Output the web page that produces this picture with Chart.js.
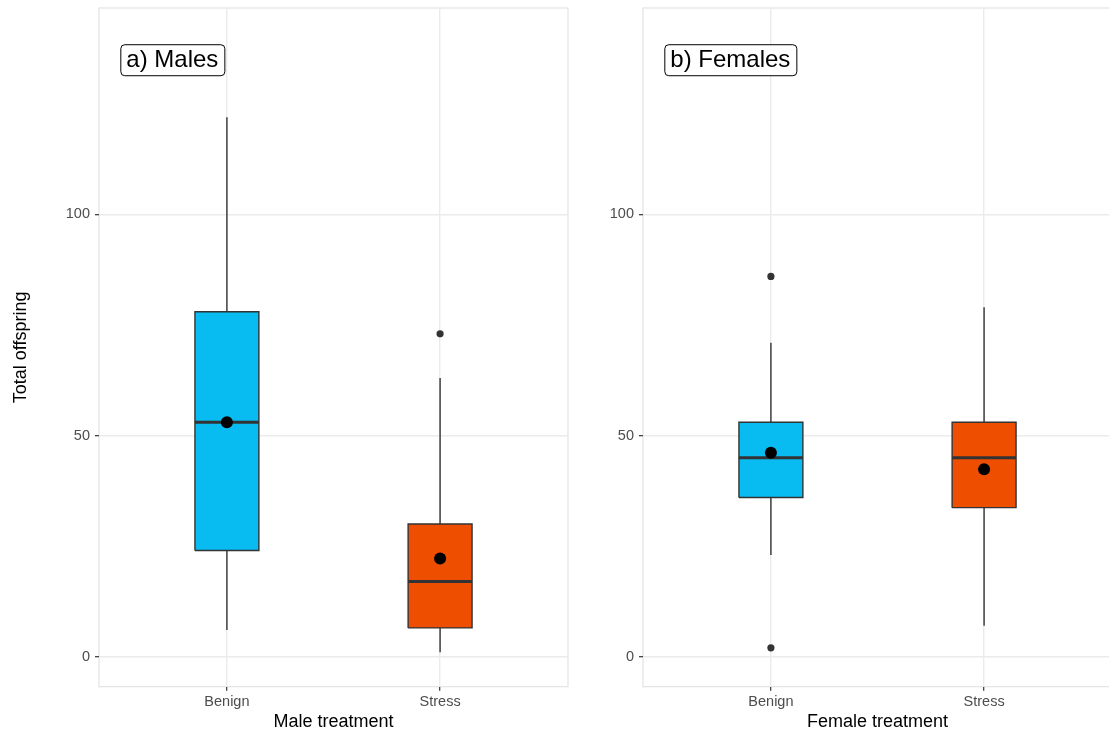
<!DOCTYPE html>
<html>
<head>
<meta charset="utf-8">
<script src="https://cdn.jsdelivr.net/npm/chart.js@4/dist/chart.umd.min.js"></script>
<style>
  html, body { margin: 0; padding: 0; background: #ffffff; overflow: hidden; }
  #wrap { position: relative; width: 1109px; height: 734px; overflow: hidden; }
  .pane { position: absolute; top: 0; height: 734px; }
  #p1 { left: 0; width: 574px; }
  #p2 { left: 572px; width: 546px; }
</style>
</head>
<body>
<div id="wrap">
  <div class="pane" id="p1"><canvas id="c1"></canvas></div>
  <div class="pane" id="p2"><canvas id="c2"></canvas></div>
</div>
<script>
// Treatment groups (x positions 1 and 2 on each panel)
const categories = ['Benign', 'Stress'];
const yTicks = [0, 50, 100];

// Males: box-plot summaries per treatment
const maleMin    = [6, 1];
const maleQ1     = [24, 6.5];
const maleMedian = [53, 17];
const maleQ3     = [78, 30];
const maleMax    = [122, 63];
const maleMean   = [53, 22.2];
const maleOutliers = [[], [73]];

// Females: box-plot summaries per treatment
const femaleMin    = [23, 7];
const femaleQ1     = [36, 33.7];
const femaleMedian = [45, 45];
const femaleQ3     = [53, 53];
const femaleMax    = [71, 79];
const femaleMean   = [46.1, 42.4];
const femaleOutliers = [[86, 2], []];

const fillColors = ['#08BBF1', '#EE4E00'];
const boxHalf = 0.15;
const ink = '#333333';
const font = "'Liberation Sans', Arial, Helvetica, sans-serif";

function buildDatasets(mins, q1, med, q3, max, mean, outl) {
  const ds = [];
  categories.forEach((c, i) => {
    const x = i + 1;
    // box body as a closed filled shape
    ds.push({
      type: 'line',
      data: [
        {x: x - boxHalf, y: q1[i]}, {x: x + boxHalf, y: q1[i]},
        {x: x + boxHalf, y: q3[i]}, {x: x - boxHalf, y: q3[i]},
        {x: x - boxHalf, y: q1[i]}
      ],
      fill: 'shape',
      backgroundColor: fillColors[i],
      borderColor: ink,
      borderWidth: 1.4,
      pointRadius: 0,
      tension: 0,
      order: 3
    });
    // median bar
    ds.push({
      type: 'line',
      data: [{x: x - boxHalf, y: med[i]}, {x: x + boxHalf, y: med[i]}],
      borderColor: ink,
      borderWidth: 3,
      pointRadius: 0,
      fill: false,
      order: 2
    });
    // whiskers
    ds.push({
      type: 'line',
      data: [{x: x, y: q3[i]}, {x: x, y: max[i]}, {x: x, y: null},
             {x: x, y: q1[i]}, {x: x, y: mins[i]}],
      borderColor: ink,
      borderWidth: 1.4,
      pointRadius: 0,
      fill: false,
      spanGaps: false,
      order: 4
    });
    // outliers
    if (outl[i].length) {
      ds.push({
        type: 'scatter',
        data: outl[i].map(v => ({x: x, y: v})),
        backgroundColor: ink,
        borderColor: ink,
        pointRadius: 3.6,
        borderWidth: 0,
        order: 1
      });
    }
    // group mean
    ds.push({
      type: 'scatter',
      data: [{x: x, y: mean[i]}],
      backgroundColor: '#000000',
      borderColor: '#000000',
      pointRadius: 6,
      borderWidth: 0,
      order: 0
    });
  });
  return ds;
}

// Panel frame and inset label
const panelPlugin = {
  id: 'panelDecor',
  beforeDraw(chart) {
    const {ctx, chartArea: a} = chart;
    ctx.save();
    ctx.strokeStyle = '#E3E3E3';
    ctx.lineWidth = 1.2;
    ctx.strokeRect(a.left, a.top, a.right - a.left, a.bottom - a.top);
    ctx.restore();
  },
  afterDatasetsDraw(chart, args, opts) {
    const {ctx, scales: {x, y}} = chart;
    const px = x.getPixelForValue(opts.x);
    const py = y.getPixelForValue(opts.y);
    ctx.save();
    ctx.font = '24px ' + font;
    const w = ctx.measureText(opts.text).width;
    const padX = 6, h = 31;
    const bx = px, by = py - h / 2, bw = w + padX * 2;
    ctx.beginPath();
    ctx.roundRect(bx + 0.5, by + 0.5, bw, h, 4);
    ctx.fillStyle = '#ffffff';
    ctx.fill();
    ctx.strokeStyle = '#000000';
    ctx.lineWidth = 1;
    ctx.stroke();
    ctx.fillStyle = '#000000';
    ctx.textBaseline = 'middle';
    ctx.textAlign = 'left';
    ctx.fillText(opts.text, bx + padX, py + 1);
    ctx.restore();
  }
};

function makeChart(id, datasets, cfg) {
  return new Chart(document.getElementById(id), {
    data: { datasets },
    plugins: [panelPlugin],
    options: {
      responsive: true,
      maintainAspectRatio: false,
      animation: false,
      layout: { padding: { top: 8, right: 0, bottom: 0, left: 0 } },
      plugins: {
        legend: { display: false },
        tooltip: { enabled: false },
        panelDecor: { text: cfg.label, x: 0.5, y: 135 }
      },
      scales: {
        x: {
          type: 'linear',
          min: 0.4, max: 2.6,
          afterBuildTicks: s => { s.ticks = categories.map((c, i) => ({value: i + 1})); },
          afterFit: s => { s.height = 47.3; s.paddingLeft = 0; s.paddingRight = 0; },
          ticks: {
            callback: v => categories[v - 1] || '',
            color: '#4D4D4D',
            font: { family: font, size: 14.5 },
            padding: 3,
            maxRotation: 0,
            autoSkip: false
          },
          grid: { color: '#EBEBEB', lineWidth: 1.4, tickColor: ink, tickLength: 4, tickWidth: 1.2 },
          border: { display: false },
          title: {
            display: true, text: cfg.xTitle, color: '#000000',
            font: { family: font, size: 18 },
            padding: { top: 0, bottom: 1.2 }
          }
        },
        y: {
          type: 'linear',
          min: -6.8, max: 146.7,
          afterBuildTicks: s => { s.ticks = yTicks.map(v => ({value: v})); },
          afterFit: s => { s.width = cfg.yWidth; s.paddingTop = 0; s.paddingBottom = 0; },
          ticks: {
            color: '#4D4D4D',
            font: { family: font, size: 14.5 },
            padding: 5
          },
          grid: { color: '#EBEBEB', lineWidth: 1.4, tickColor: ink, tickLength: 4, tickWidth: 1.2 },
          border: { display: false },
          title: {
            display: cfg.yTitle !== '', text: cfg.yTitle, color: '#000000',
            font: { family: font, size: 18 },
            padding: { top: 10, bottom: 0 }
          }
        }
      }
    }
  });
}

makeChart('c1',
  buildDatasets(maleMin, maleQ1, maleMedian, maleQ3, maleMax, maleMean, maleOutliers),
  { label: 'a) Males', xTitle: 'Male treatment', yTitle: 'Total offspring', yWidth: 99 });

makeChart('c2',
  buildDatasets(femaleMin, femaleQ1, femaleMedian, femaleQ3, femaleMax, femaleMean, femaleOutliers),
  { label: 'b) Females', xTitle: 'Female treatment', yTitle: '', yWidth: 71 });
</script>
</body>
</html>
